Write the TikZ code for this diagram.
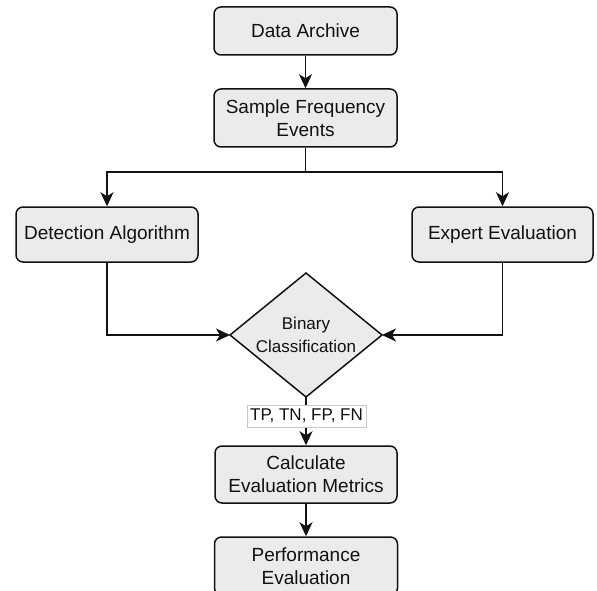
\documentclass[tikz,border=0pt]{standalone}
\usepackage{fontspec}
\setmainfont{Liberation Sans}
\usetikzlibrary{arrows.meta}
\definecolor{boxfill}{HTML}{EBEBEB}
\definecolor{ink}{HTML}{111111}
\definecolor{lblborder}{HTML}{C8C8C8}
\begin{document}
\begin{tikzpicture}[x=1pt,y=-1pt,
  box/.style={draw=ink,fill=boxfill,line width=1.5pt,rounded corners=7pt,
    align=center,inner sep=0pt,text=ink,font=\fontsize{19}{23}\selectfont},
  conn/.style={draw=ink,line width=1.7pt,-{Stealth[length=14pt,width=13pt,inset=4pt]}},
  plain/.style={draw=ink,line width=1.7pt}
]
\useasboundingbox (0,0) rectangle (597,591);
\clip (0,0) rectangle (597,591);
\node[box,minimum width=183pt,minimum height=48pt] (da) at (305.5,31) {Data Archive};
\node[box,minimum width=183pt,minimum height=58pt] (sfe) at (305.5,118) {Sample Frequency\\Events};
\node[box,minimum width=182pt,minimum height=55pt] (det) at (107,234.5) {Detection Algorithm};
\node[box,minimum width=181pt,minimum height=55pt] (exp) at (502.5,234.5) {Expert Evaluation};
\node[box,minimum width=182pt,minimum height=57pt] (calc) at (306,474.5) {Calculate\\Evaluation Metrics};
\node[box,minimum width=183pt,minimum height=58pt] (perf) at (306,566) {Performance\\Evaluation};
% diamond
\coordinate (bct) at (306,273);
\coordinate (bcr) at (382,335);
\coordinate (bcb) at (306,397);
\coordinate (bcl) at (230,335);
\draw[draw=ink,fill=boxfill,line width=1.5pt] (bct) -- (bcr) -- (bcb) -- (bcl) -- cycle;
\node[align=center,text=ink,font=\fontsize{17}{23}\selectfont] (bc) at (306,335) {Binary\\Classification};
% connectors
\coordinate (split) at (305.5,172);
\coordinate (sl) at (107,172);
\coordinate (sr) at (502.5,172);
\coordinate (dl) at (107,335);
\coordinate (dr) at (502.5,335);
\draw[conn] (da) -- (sfe);
\draw[plain] (sfe.south) -- (split);
\draw[conn] (split) -- (sl) -- (det.north);
\draw[conn] (split) -- (sr) -- (exp.north);
\draw[conn] (det.south) -- (dl) -- (bcl);
\draw[conn] (exp.south) -- (dr) -- (bcr);
\draw[conn] (bcb) -- (calc.north);
\draw[conn] (calc) -- (perf);
\node[fill=white,draw=lblborder,line width=0.6pt,inner sep=1pt,minimum width=119pt,minimum height=22pt,text=ink,font=\fontsize{17}{20}\selectfont] (lbl) at (306.5,416) {TP, TN, FP, FN};
\end{tikzpicture}
\end{document}
